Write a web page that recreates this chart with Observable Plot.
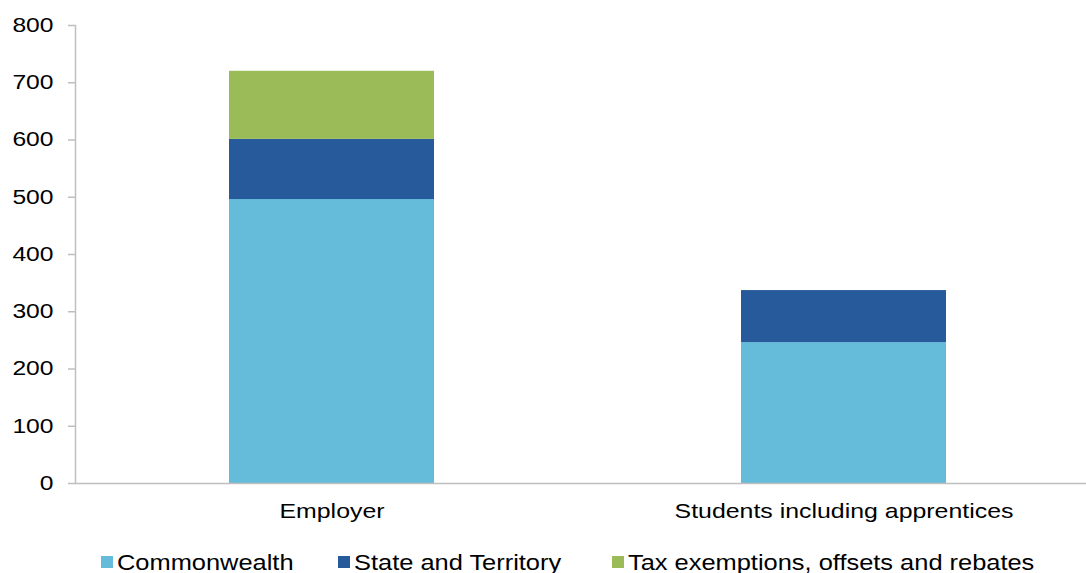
<!DOCTYPE html>
<html>
<head>
<meta charset="utf-8">
<script src="https://cdn.jsdelivr.net/npm/d3@7"></script>
<script src="https://cdn.jsdelivr.net/npm/@observablehq/plot@0.6"></script>
<style>
  html, body { margin: 0; padding: 0; background: #fff; overflow: hidden; width: 1086px; height: 573px; }
  #chart { position: absolute; left: 0; top: 0; }
  #legend { position: absolute; top: 550px; left: 0; width: 1086px; height: 30px; font-family: "Liberation Sans", Arial, sans-serif; font-size: 22px; line-height: 25px; color: #000; }
  .item { position: absolute; top: 0; height: 25px; white-space: nowrap; }
  .sw { position: absolute; left: 0; top: 6px; width: 12px; height: 12px; }
  .txt { position: absolute; left: 16px; top: 0; display: inline-block; transform: scaleX(1.155); transform-origin: 0 0; }
</style>
</head>
<body>
<div id="chart"></div>
<div id="legend"></div>
<script>
const categories = ["Employer", "Students including apprentices"];
const seriesNames = ["Commonwealth", "State and Territory", "Tax exemptions, offsets and rebates"];
const commonwealth = [496, 246];
const stateTerritory = [105, 91];
const taxExemptions = [119, 0];
const colors = ["#65BBDA", "#265A9A", "#9BBB59"];
const yTicks = [0, 100, 200, 300, 400, 500, 600, 700, 800];

const seriesValues = [commonwealth, stateTerritory, taxExemptions];
const data = [];
seriesNames.forEach((s, si) => categories.forEach((c, ci) => {
  data.push({category: c, series: s, value: seriesValues[si][ci]});
}));

const plot = Plot.plot({
  width: 1100,
  height: 530,
  marginTop: 25,
  marginBottom: 47,
  marginLeft: 75,
  marginRight: 0,
  style: {fontFamily: "'Liberation Sans', Arial, sans-serif", fontSize: "20px", color: "#000", background: "#fff", maxWidth: "none"},
  x: {domain: categories, paddingInner: 0.6, paddingOuter: 0.3, label: null, axis: null},
  y: {domain: [0, 800], label: null, axis: null},
  color: {domain: seriesNames, range: colors},
  marks: [
    Plot.barY(data, {x: "category", y: "value", fill: "series", order: seriesNames}),
    Plot.frame({anchor: "left", stroke: "#BFBFBF", strokeWidth: 1.5}),
    Plot.ruleY([0], {stroke: "#BFBFBF", strokeWidth: 1.5}),
    Plot.axisY({ticks: yTicks, tickSize: 7, tickPadding: 15, stroke: "#BFBFBF", strokeWidth: 1.5, fill: "#000", fontSize: 20, label: null}),
    Plot.axisX({tickSize: 0, tickPadding: 20, fill: "#000", fontSize: 21, label: null})
  ]
});
document.getElementById("chart").appendChild(plot);

// widen glyphs horizontally to match the reference's wide text rendering
function stretch(prefix, k) {
  plot.querySelectorAll('g[aria-label^="' + prefix + '"] text').forEach(t => {
    const len = t.getComputedTextLength();
    t.setAttribute("textLength", (len * k).toFixed(1));
    t.setAttribute("lengthAdjust", "spacingAndGlyphs");
  });
}
stretch("y-axis", 1.23);
stretch("x-axis", 1.185);

const legendX = [101, 338, 612];
const legend = document.getElementById("legend");
seriesNames.forEach((s, i) => {
  const item = document.createElement("div");
  item.className = "item";
  item.style.left = legendX[i] + "px";
  const sw = document.createElement("div");
  sw.className = "sw";
  sw.style.background = colors[i];
  const t = document.createElement("span");
  t.className = "txt";
  t.textContent = s;
  item.appendChild(sw);
  item.appendChild(t);
  legend.appendChild(item);
});
</script>
</body>
</html>
